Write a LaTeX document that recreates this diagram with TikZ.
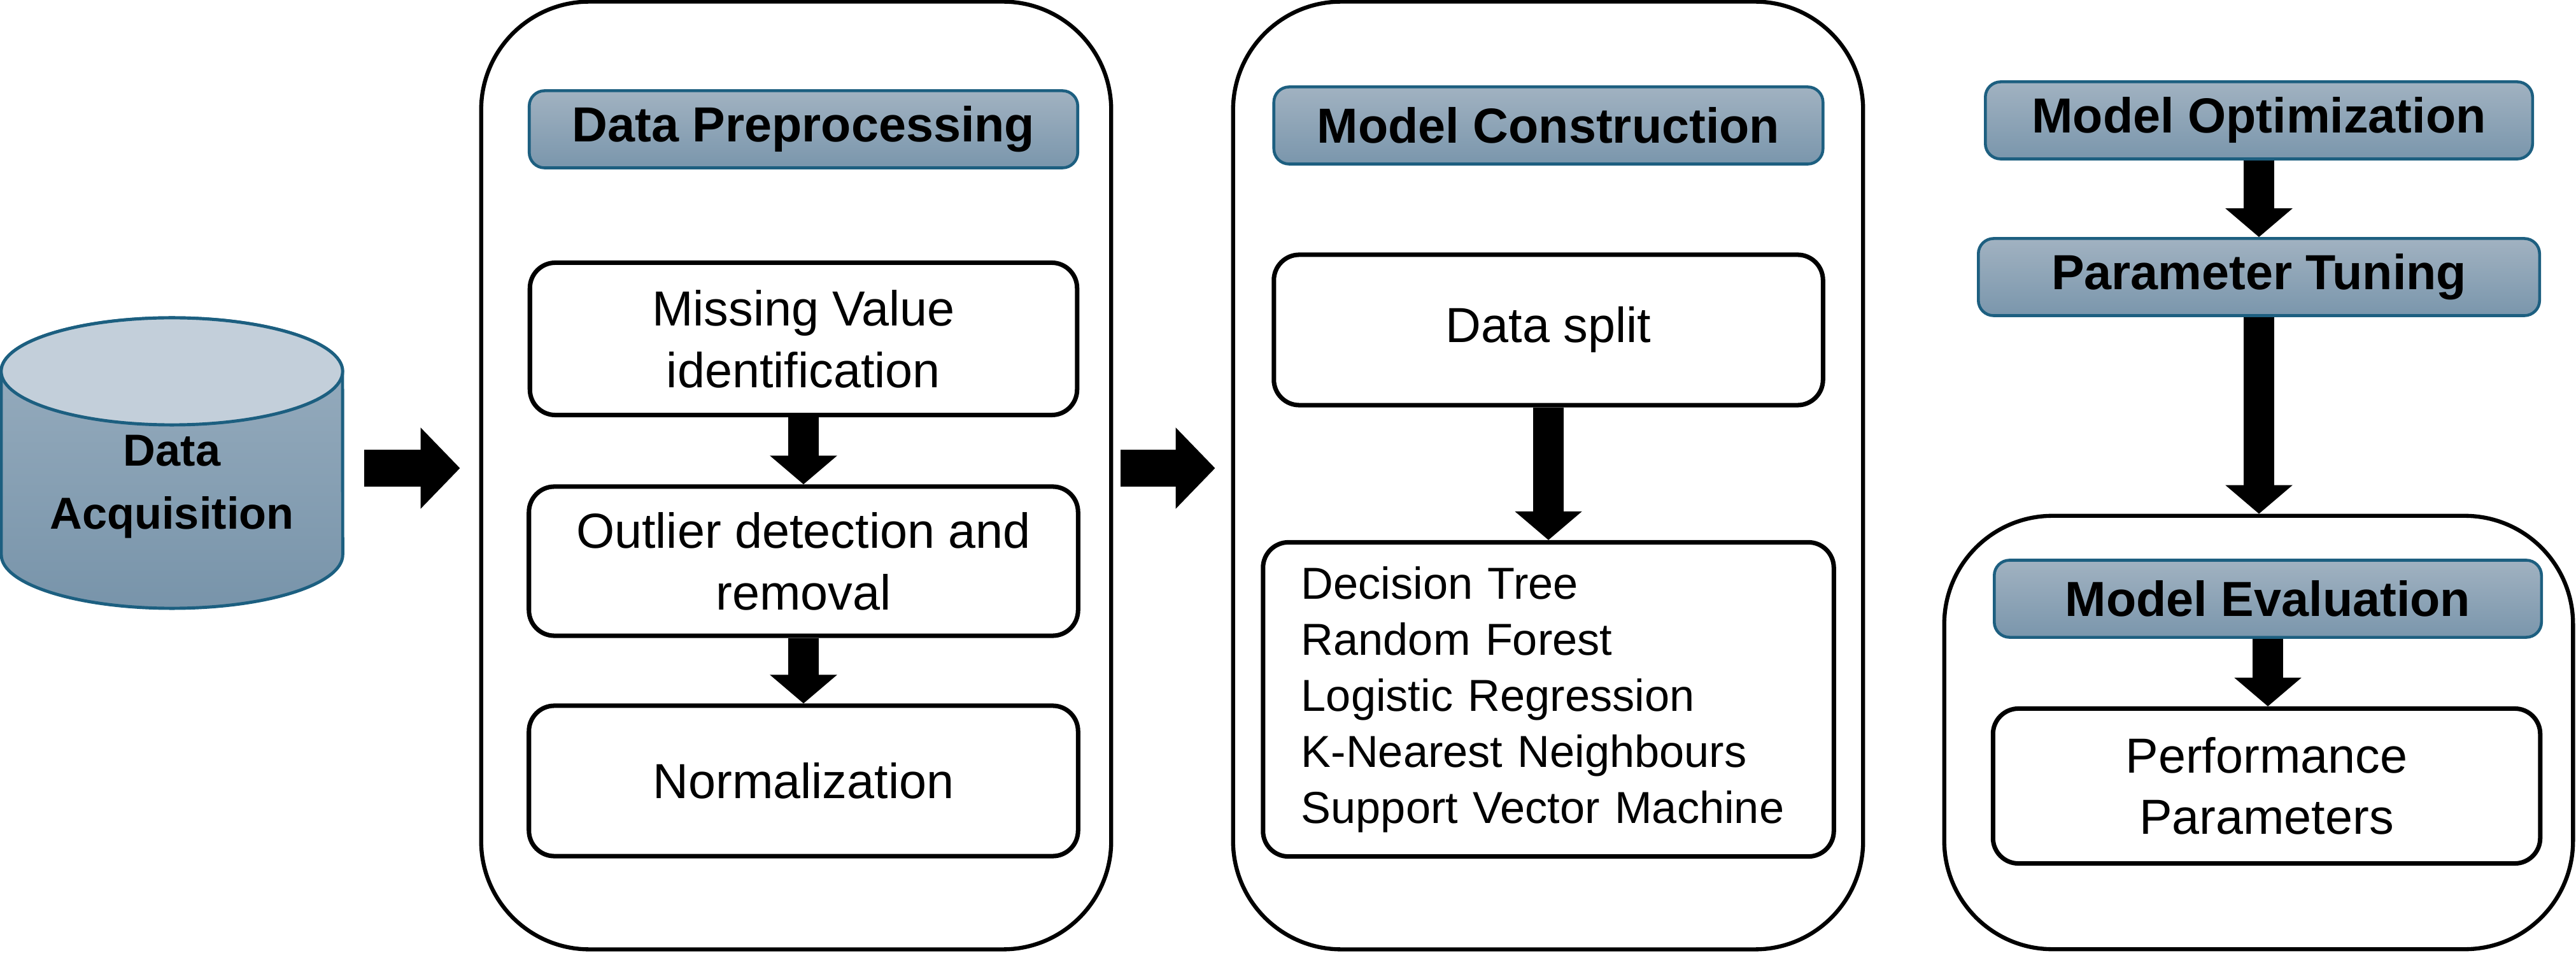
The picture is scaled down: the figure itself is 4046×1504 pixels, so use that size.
\documentclass[tikz,border=0pt]{standalone}
\usepackage{fontspec}
\setmainfont{Liberation Sans}
\usetikzlibrary{arrows.meta}
\definecolor{hdrtop}{HTML}{A1B2C1}
\definecolor{hdrbot}{HTML}{7A96AC}
\definecolor{hdredge}{HTML}{1D5F80}
\definecolor{cyltop}{HTML}{C3CFDA}
\definecolor{cylbodytop}{HTML}{9AAFC0}
\definecolor{cylbodybot}{HTML}{7894AA}
\definecolor{cyledge}{HTML}{1C5F80}
\begin{document}
\begin{tikzpicture}[x=0.01cm, y=-0.01cm,
  panel/.style={draw=black, line width=1.8pt, rounded corners=1.7cm, fill=white, inner sep=0pt},
  hdr/.style={draw=hdredge, line width=1.3pt, rounded corners=0.24cm, top color=hdrtop, bottom color=hdrbot,
    minimum height=1.21cm, font=\fontsize{22}{27.5}\selectfont\bfseries, inner sep=0pt},
  stepbox/.style={draw=black, line width=2pt, rounded corners=0.4cm, fill=white, align=center,
    font=\fontsize{22}{27.5}\selectfont, inner sep=0pt},
  varrow/.style={line width=0.48cm, -{Triangle[width=1.03cm, length=0.45cm]}},
  harrow/.style={line width=0.58cm, -{Triangle[width=1.24cm, length=0.62cm]}},
]
\useasboundingbox (0,0) rectangle (4046,1504);
\fill[white] (0,0) rectangle (4046,1504);

% cylinder
\path[draw=cyledge, line width=1.4pt, top color=cylbodytop, bottom color=cylbodybot]
  (2,583) -- (2,871) arc[start angle=180, end angle=360, x radius=2.68cm, y radius=0.84cm]
  -- (538,583) arc[start angle=0, end angle=180, x radius=2.68cm, y radius=0.84cm] -- cycle;
\draw[cyledge, line width=1.4pt, fill=cyltop] (270,583) ellipse[x radius=2.68cm, y radius=0.84cm];
\node[minimum width=5.36cm, minimum height=4.6cm, inner sep=0pt] (cyl) at (270,725) {};
\node[font=\fontsize{20}{28}\selectfont\bfseries, align=center] (acq) at (270,764) {Data\\Acquisition};

% panels
\node[panel, minimum width=9.89cm, minimum height=14.87cm] (p1) at (1250.5,746.5) {};
\node[panel, minimum width=9.89cm, minimum height=14.87cm] (p2) at (2431.5,746.5) {};
\node[panel, minimum width=9.87cm, minimum height=6.80cm] (p3) at (3547.5,1150) {};

% panel 1
\node[hdr, minimum width=8.61cm] (prep) at (1262,203) {Data Preprocessing};
\node[stepbox, minimum width=8.59cm, minimum height=2.39cm] (miss) at (1262,532) {Missing Value\\identification};
\node[stepbox, minimum width=8.62cm, minimum height=2.34cm] (outl) at (1262,881) {Outlier detection and\\removal};
\node[stepbox, minimum width=8.62cm, minimum height=2.36cm] (norm) at (1262,1226) {Normalization};

% panel 2
\node[hdr, minimum width=8.62cm] (cons) at (2432,197) {Model Construction};
\node[stepbox, minimum width=8.62cm, minimum height=2.36cm] (split) at (2432,518) {Data split};
\node[stepbox, align=left, text width=7.76cm, inner xsep=0.6cm, minimum height=4.93cm,
  font=\fontsize{20}{25}\selectfont] (algos) at (2432,1098)
  {Decision Tree\\Random Forest\\Logistic Regression\\K-Nearest Neighbours\\Support Vector Machine};

% right column
\node[hdr, minimum width=8.59cm] (opt) at (3548,189) {Model Optimization};
\node[hdr, minimum width=8.81cm] (tune) at (3548,435) {Parameter Tuning};
\node[hdr, minimum width=8.59cm] (eval) at (3562,940) {Model Evaluation};
\node[stepbox, minimum width=8.59cm, minimum height=2.43cm] (perf) at (3560,1234) {Performance\\Parameters};

% connectors
\coordinate (ay) at (0,735);
\draw[harrow, shorten <=0.33cm, shorten >=0.30cm] (cyl.east |- ay) -- (p1.west |- ay);
\draw[harrow, shorten <=0.12cm, shorten >=0.25cm] (p1.east |- ay) -- (p2.west |- ay);
\draw[varrow] (miss.south) -- (outl.north);
\draw[varrow] (outl.south) -- (norm.north);
\draw[varrow] (split.south) -- (algos.north);
\draw[varrow] (opt.south) -- (tune.north);
\draw[varrow] (tune.south) -- (tune.south |- p3.north);
\draw[varrow] (eval.south) -- (eval.south |- perf.north);
\end{tikzpicture}
\end{document}
